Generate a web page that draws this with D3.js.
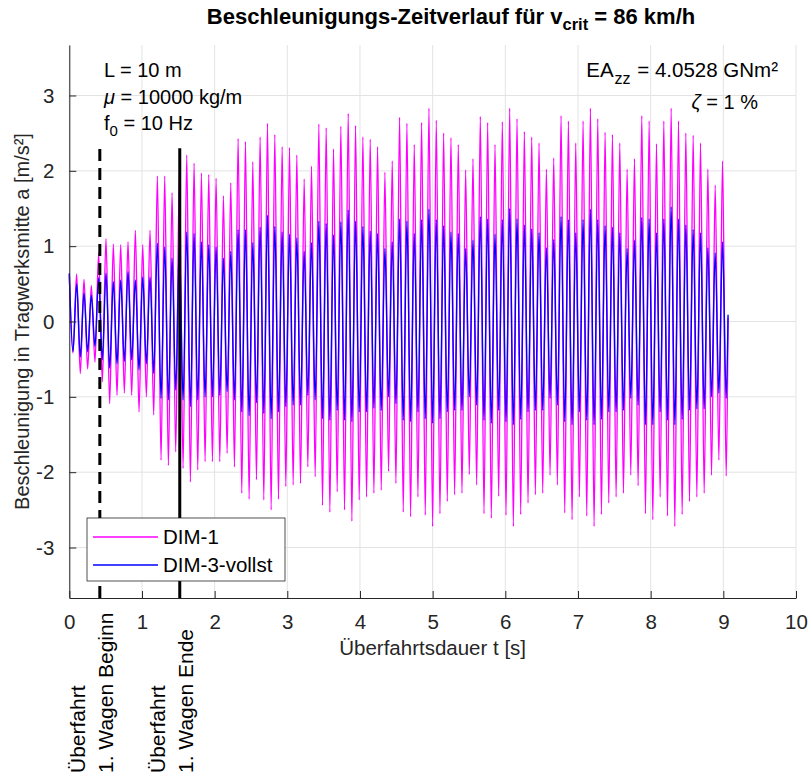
<!DOCTYPE html>
<html lang="de">
<head>
<meta charset="UTF-8">
<title>Beschleunigungs-Zeitverlauf</title>
<script src="https://cdn.jsdelivr.net/npm/d3@7"></script>
<style>
  body { margin: 0; background: #fff; overflow: hidden; }
  text { font-family: "Liberation Sans", Arial, sans-serif; }
</style>
</head>
<body>
<script>
// peak values per oscillation cycle (k = 0 .. 89)
const period = 0.101;   // s, one cycle (f0 ~ 10 Hz)
const dim1Max = [0.62,0.63,0.56,0.48,0.91,1.10,1.03,1.02,1.06,1.21,
                 1.02,1.21,1.93,1.93,1.71,2.00,2.21,2.10,1.97,1.95,
                 1.90,1.67,1.84,2.43,2.39,2.12,2.45,2.63,2.48,2.32,
                 2.31,2.21,1.89,2.06,2.62,2.57,2.29,2.59,2.76,2.60,
                 2.45,2.42,2.32,1.98,2.13,2.71,2.63,2.35,2.64,2.83,
                 2.67,2.50,2.44,2.35,2.01,2.16,2.72,2.64,2.35,2.65,
                 2.83,2.69,2.52,2.45,2.37,2.02,2.17,2.73,2.66,2.37,
                 2.66,2.83,2.69,2.51,2.48,2.37,2.02,2.16,2.73,2.66,
                 2.36,2.66,2.83,2.66,2.50,2.47,2.37,2.02,1.81,2.13];
const dim1Min = [-0.42,-0.69,-0.63,-0.54,-0.80,-1.09,-0.98,-0.95,-0.98,-1.20,
                 -1.00,-1.24,-1.84,-1.91,-1.73,-1.95,-2.13,-1.97,-1.86,-1.86,
                 -1.86,-1.75,-1.93,-2.28,-2.36,-2.10,-2.37,-2.50,-2.36,-2.19,
                 -2.17,-2.15,-1.93,-2.06,-2.44,-2.53,-2.26,-2.50,-2.65,-2.37,
                 -2.33,-2.28,-2.24,-1.99,-2.15,-2.53,-2.59,-2.33,-2.57,-2.72,
                 -2.55,-2.39,-2.30,-2.28,-2.03,-2.17,-2.55,-2.61,-2.32,-2.57,
                 -2.72,-2.56,-2.41,-2.30,-2.28,-2.04,-2.17,-2.54,-2.63,-2.33,
                 -2.58,-2.72,-2.56,-2.41,-2.33,-2.28,-2.04,-2.18,-2.55,-2.63,
                 -2.33,-2.58,-2.72,-2.56,-2.39,-2.33,-2.28,-2.04,-1.84,-2.05];
const dim3Max = [0.64,0.50,0.38,0.35,0.58,0.64,0.53,0.55,0.66,0.55,
                 0.59,0.59,1.04,0.99,0.84,1.05,1.19,1.17,1.06,1.02,
                 0.99,0.84,0.93,1.22,1.22,1.05,1.25,1.41,1.26,1.19,
                 1.16,1.11,0.93,1.05,1.33,1.30,1.15,1.32,1.48,1.33,
                 1.26,1.20,1.17,0.97,1.06,1.36,1.33,1.17,1.35,1.49,
                 1.35,1.27,1.19,1.17,0.97,1.08,1.39,1.36,1.16,1.35,
                 1.50,1.36,1.28,1.23,1.18,0.98,1.09,1.39,1.35,1.18,
                 1.35,1.49,1.35,1.27,1.25,1.18,0.97,1.08,1.38,1.36,
                 1.18,1.36,1.52,1.36,1.28,1.22,1.18,0.98,0.91,1.06];
const dim3Min = [-0.40,-0.47,-0.40,-0.33,-0.51,-0.62,-0.56,-0.53,-0.51,-0.64,
                 -0.56,-0.69,-1.02,-1.04,-0.91,-1.04,-1.13,-1.04,-1.00,-1.00,
                 -0.98,-0.93,-1.04,-1.20,-1.25,-1.08,-1.22,-1.29,-1.20,-1.13,
                 -1.11,-1.11,-0.98,-1.04,-1.29,-1.31,-1.18,-1.31,-1.33,-1.20,
                 -1.20,-1.15,-1.18,-1.00,-1.09,-1.31,-1.33,-1.20,-1.29,-1.35,
                 -1.29,-1.20,-1.18,-1.18,-1.00,-1.11,-1.31,-1.35,-1.18,-1.33,
                 -1.37,-1.30,-1.20,-1.18,-1.18,-1.02,-1.11,-1.33,-1.37,-1.20,
                 -1.31,-1.37,-1.30,-1.20,-1.20,-1.18,-1.02,-1.11,-1.37,-1.37,
                 -1.20,-1.31,-1.37,-1.30,-1.18,-1.16,-1.16,-1.00,-0.95,-1.02];
const endPoint = {t: 9.065, dim1: 0.05, dim3: 0.09};

const xTicks = [0,1,2,3,4,5,6,7,8,9,10];
const yTicks = [-3,-2,-1,0,1,2,3];
const markerTimes = [0.42, 1.52];
const markerTop = 2.3;
const markerLabels = [["Überfahrt", "1. Wagen Beginn"], ["Überfahrt", "1. Wagen Ende"]];
const seriesNames = ["DIM-1", "DIM-3-vollst"];
const seriesColors = ["#ff00ff", "#0000ff"];

const W = 809, H = 778;
const svg = d3.select("body").append("svg").attr("width", W).attr("height", H);

const x = d3.scaleLinear().domain([0, 10]).range([69.3, 796]);
const y = d3.scaleLinear().domain([-3.67, 3.67]).range([598, 45]);

// grid
svg.append("g").selectAll("line").data(xTicks).join("line")
  .attr("x1", d => x(d)).attr("x2", d => x(d))
  .attr("y1", y.range()[0]).attr("y2", y.range()[1])
  .attr("stroke", "#e3e3e3").attr("stroke-width", 1);
svg.append("g").selectAll("line").data(yTicks).join("line")
  .attr("x1", x.range()[0]).attr("x2", x.range()[1])
  .attr("y1", d => y(d)).attr("y2", d => y(d))
  .attr("stroke", "#e3e3e3").attr("stroke-width", 1);

// build alternating max/min sequence
function buildSeries(maxArr, minArr, endVal) {
  const pts = [];
  maxArr.forEach((v, k) => {
    pts.push([k * period, v]);
    pts.push([(k + 0.5) * period, minArr[k]]);
  });
  pts.push([endPoint.t, endVal]);
  return pts;
}
const series = [
  buildSeries(dim1Max, dim1Min, endPoint.dim1),
  buildSeries(dim3Max, dim3Min, endPoint.dim3)
];

const line = d3.line()
  .x(d => x(d[0])).y(d => y(d[1]))
  .curve(d3.curveMonotoneX);

svg.append("g").selectAll("path").data(series).join("path")
  .attr("d", line)
  .attr("fill", "none")
  .attr("stroke", (d, i) => seriesColors[i])
  .attr("stroke-width", 1.4);

// axes
const fmt = d => String(d);
const xAxis = d3.axisBottom(x).tickValues(xTicks).tickFormat(fmt).tickSizeInner(-7).tickSizeOuter(0).tickPadding(16);
const yAxis = d3.axisLeft(y).tickValues(yTicks).tickFormat(fmt).tickSizeInner(-7).tickSizeOuter(0).tickPadding(15);
const gx = svg.append("g").attr("transform", `translate(0,${y.range()[0]})`).call(xAxis);
const gy = svg.append("g").attr("transform", `translate(${x.range()[0]},0)`).call(yAxis);
[gx, gy].forEach(g => {
  g.select(".domain").attr("stroke", "#262626");
  g.selectAll(".tick line").attr("stroke", "#262626");
  g.selectAll(".tick text").attr("fill", "#262626")
    .style("font-size", "20.5px").style("font-family", "'Liberation Sans', Arial, sans-serif");
});

// marker lines
svg.append("g").selectAll("line").data(markerTimes).join("line")
  .attr("x1", d => x(d)).attr("x2", d => x(d))
  .attr("y1", y.range()[0]).attr("y2", y(markerTop))
  .attr("stroke", "#000").attr("stroke-width", 3)
  .attr("stroke-dasharray", (d, i) => i === 0 ? "12,7" : null);

// marker labels below axis
markerTimes.forEach((t, i) => {
  markerLabels[i].forEach((s, j) => {
    const bx = x(t) + (j === 0 ? -15 : 13.5);
    svg.append("text")
      .attr("transform", `translate(${bx},773) rotate(-90)`)
      .attr("text-anchor", "start")
      .attr("fill", "#000")
      .style("font-size", "21px")
      .text(s);
  });
});

// axis labels
svg.append("text")
  .attr("x", (x.range()[0] + x.range()[1]) / 2).attr("y", 655)
  .attr("text-anchor", "middle").attr("fill", "#262626")
  .style("font-size", "20.5px")
  .text("Überfahrtsdauer t [s]");
svg.append("text")
  .attr("transform", `translate(29,${(y.range()[0] + y.range()[1]) / 2}) rotate(-90)`)
  .attr("text-anchor", "middle").attr("fill", "#262626")
  .style("font-size", "20px")
  .text("Beschleunigung in Tragwerksmitte a [m/s²]");

// title
const title = svg.append("text")
  .attr("x", 451).attr("y", 24)
  .attr("text-anchor", "middle").attr("fill", "#000")
  .style("font-size", "22px").style("font-weight", "bold");
title.append("tspan").text("Beschleunigungs-Zeitverlauf für v");
title.append("tspan").attr("dy", 6).style("font-size", "16.5px").text("crit");
title.append("tspan").attr("dy", -6).text(" = 86 km/h");

// parameter annotations
const ann = svg.append("g").attr("fill", "#000").style("font-size", "20px");
ann.append("text").attr("x", 104).attr("y", 77).text("L = 10 m");
const mu = ann.append("text").attr("x", 104).attr("y", 104);
mu.append("tspan").style("font-style", "italic").text("μ");
mu.append("tspan").text(" = 10000 kg/m");
const f0 = ann.append("text").attr("x", 104).attr("y", 130);
f0.append("tspan").text("f");
f0.append("tspan").attr("dy", 6).style("font-size", "15px").text("0");
f0.append("tspan").attr("dy", -6).text(" = 10 Hz");
const ea = ann.append("text").attr("x", 778).attr("y", 77).attr("text-anchor", "end")
  .style("font-size", "20.5px");
ea.append("tspan").text("EA");
ea.append("tspan").attr("dy", 7).attr("dx", 1).style("font-size", "16px").text("zz");
ea.append("tspan").attr("dy", -7).attr("dx", 1).text(" = 4.0528 GNm²");
const zeta = ann.append("text").attr("x", 758).attr("y", 109).attr("text-anchor", "end");
zeta.append("tspan").style("font-style", "italic").text("ζ");
zeta.append("tspan").text(" = 1 %");

// legend
const lg = svg.append("g");
lg.append("rect").attr("x", 87).attr("y", 518).attr("width", 198).attr("height", 63)
  .attr("fill", "#fff").attr("stroke", "#262626").attr("stroke-width", 0.8);
seriesNames.forEach((name, i) => {
  const ly = 537 + i * 28;
  lg.append("line").attr("x1", 93).attr("x2", 158).attr("y1", ly).attr("y2", ly)
    .attr("stroke", seriesColors[i]).attr("stroke-width", 1.4);
  lg.append("text").attr("x", 163).attr("y", ly + 7).attr("fill", "#000")
    .style("font-size", "20.5px").text(name);
});
</script>
</body>
</html>
